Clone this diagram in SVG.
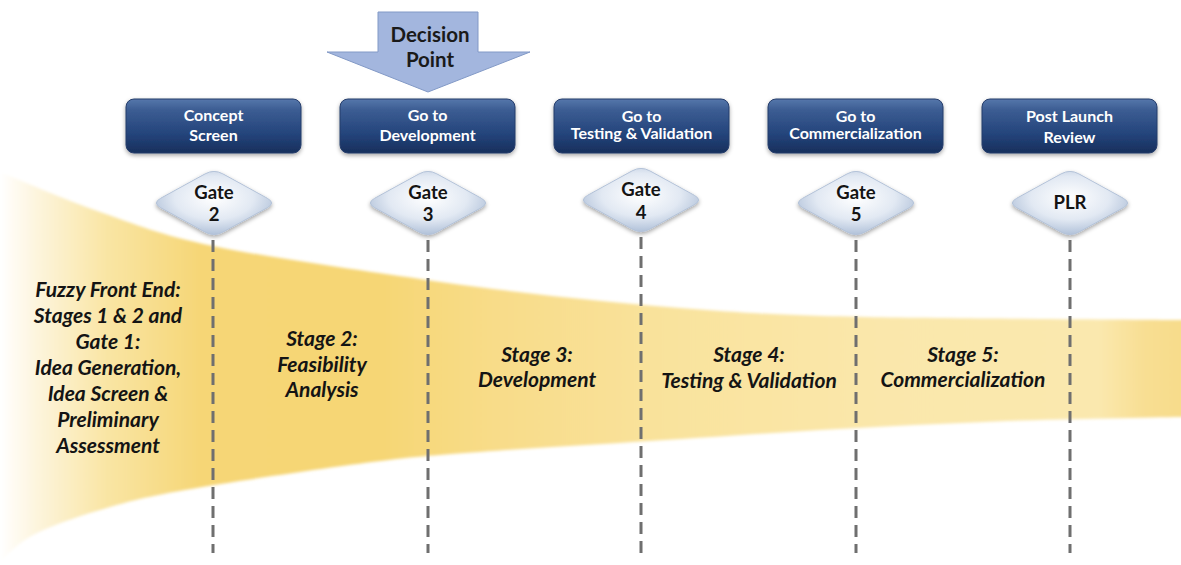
<svg xmlns="http://www.w3.org/2000/svg" xmlns:xlink="http://www.w3.org/1999/xlink" width="1181" height="565" viewBox="0 0 1181 565">
  <style>
    .box { fill: url(#boxFill); stroke: #253d6b; stroke-width: 1; filter: url(#shadow); }
    .boxText { font-family: Lato, "Liberation Sans", sans-serif; font-weight: bold; font-size: 16px; fill: #ffffff; text-anchor: middle; }
    .gate { fill: url(#gateFill); stroke: #b3c2d8; stroke-width: 1; filter: url(#shadow); }
    .gateText { font-family: Lato, "Liberation Sans", sans-serif; font-weight: bold; font-size: 18.5px; fill: #141414; text-anchor: middle; }
    .stage { font-family: Lato, "Liberation Sans", sans-serif; font-weight: bold; font-style: italic; font-size: 21px; fill: #141414; text-anchor: middle; }
    .divider { stroke: #6f6f6f; stroke-width: 3; stroke-dasharray: 12 7; fill: none; }
    .decisionText { font-family: Lato, "Liberation Sans", sans-serif; font-weight: bold; font-size: 20.5px; fill: #1a1a1a; text-anchor: middle; }
  </style>
  <defs>
    <linearGradient id="funnelFill" gradientUnits="userSpaceOnUse" x1="0" y1="0" x2="1181" y2="0">
      <stop offset="0" stop-color="#ffffff"/>
      <stop offset="0.03" stop-color="#fdf5de"/>
      <stop offset="0.09" stop-color="#f9e5a4"/>
      <stop offset="0.17" stop-color="#f6d676"/>
      <stop offset="0.32" stop-color="#f6d674"/>
      <stop offset="0.42" stop-color="#f8dc89"/>
      <stop offset="0.58" stop-color="#f9e39e"/>
      <stop offset="0.75" stop-color="#fae7ab"/>
      <stop offset="0.93" stop-color="#fae8ae"/>
      <stop offset="0.97" stop-color="#f8de92"/>
      <stop offset="1" stop-color="#f7dc8b"/>
    </linearGradient>
    <linearGradient id="boxFill" x1="0" y1="0" x2="0" y2="1">
      <stop offset="0" stop-color="#5677ab"/>
      <stop offset="0.2" stop-color="#3c5d93"/>
      <stop offset="0.65" stop-color="#24447b"/>
      <stop offset="1" stop-color="#172f5c"/>
    </linearGradient>
    <radialGradient id="gateFill" cx="0.5" cy="0.42" r="0.62">
      <stop offset="0" stop-color="#ffffff"/>
      <stop offset="0.55" stop-color="#e2e9f3"/>
      <stop offset="1" stop-color="#a9bbd5"/>
    </radialGradient>
    <filter id="shadow" x="-20%" y="-20%" width="140%" height="150%">
      <feDropShadow dx="0" dy="2" stdDeviation="2" flood-color="#000000" flood-opacity="0.35"/>
    </filter>
    <filter id="soft" x="-2%" y="-5%" width="104%" height="110%">
      <feGaussianBlur stdDeviation="1.5"/>
    </filter>
    <path id="diamond" d="M -8.77,-29.19 Q 0,-34 8.77,-29.19 L 53.23,-4.81 Q 62,0 53.23,4.81 L 8.77,29.19 Q 0,34 -8.77,29.19 L -53.23,4.81 Q -62,0 -53.23,-4.81 Z"/>
  </defs>

  <rect width="1181" height="565" fill="#ffffff"/>

  <!-- narrowing stage band -->
  <path id="funnel" filter="url(#soft)" fill="url(#funnelFill)" d="M -4,170 L 0,172 C 16.7,178.7 64.5,199.7 100,212 C 135.5,224.3 159.7,234.8 213,246 C 266.3,257.2 360.2,270.3 420,279 C 479.8,287.7 522,292.7 572,298 C 622,303.3 670.8,307.8 720,311 C 769.2,314.2 790.2,315.5 867,317 C 943.8,318.5 1128.7,319.5 1185,320 L 1185,417 L 1181,417 C 1152,417.5 1067.2,419 1007,421 C 946.8,423.5 882.3,426.3 820,430 C 757.7,433.7 689.7,438.3 633,442 C 576.3,445.7 523.5,448.7 480,452 C 436.5,455.3 421.2,455.7 372,462 C 322.8,468.3 230.3,482 185,490 C 139.7,498 125.3,502.5 100,510 C 74.7,517.5 49.7,526.3 33,535 C 16.3,543.7 5.5,557.5 0,562 L -4,562 Z"/>

  <!-- gate dividers -->
  <g id="connectors">
    <line class="divider" x1="213" y1="240" x2="213" y2="553"/>
    <line class="divider" x1="428" y1="240" x2="428" y2="553"/>
    <line class="divider" x1="641" y1="237" x2="641" y2="553"/>
    <line class="divider" x1="856" y1="240" x2="856" y2="553"/>
    <line class="divider" x1="1070" y1="240" x2="1070" y2="553"/>
  </g>

  <!-- decision point arrow -->
  <g id="decision-point">
    <polygon points="378,12 478,12 478,52 530,52 428,92 327,52 378,52" fill="#a3b6de" stroke="#8299c6" stroke-width="1"/>
    <text class="decisionText" x="430" y="42">Decision</text>
    <text class="decisionText" x="430" y="67">Point</text>
  </g>

  <!-- gate description boxes -->
  <g id="box-concept-screen">
    <rect class="box" x="126" y="99" width="175" height="54" rx="8"/>
    <text class="boxText" x="213.5" y="121">Concept</text>
    <text class="boxText" x="213.5" y="141">Screen</text>
  </g>
  <g id="box-go-development">
    <rect class="box" x="340" y="99" width="175" height="54" rx="8"/>
    <text class="boxText" x="427.5" y="121">Go to</text>
    <text class="boxText" x="427.5" y="141">Development</text>
  </g>
  <g id="box-go-testing">
    <rect class="box" x="554" y="99" width="175" height="54" rx="8"/>
    <text class="boxText" x="641.5" y="122">Go to</text>
    <text class="boxText" x="641.5" y="139">Testing &amp; Validation</text>
  </g>
  <g id="box-go-commercialization">
    <rect class="box" x="768" y="99" width="175" height="54" rx="8"/>
    <text class="boxText" x="855.5" y="122">Go to</text>
    <text class="boxText" x="855.5" y="139">Commercialization</text>
  </g>
  <g id="box-post-launch">
    <rect class="box" x="982" y="99" width="175" height="54" rx="8"/>
    <text class="boxText" x="1069.5" y="122">Post Launch</text>
    <text class="boxText" x="1069.5" y="143">Review</text>
  </g>

  <!-- gates -->
  <g id="gate-2">
    <use href="#diamond" class="gate" transform="translate(214,203)"/>
    <text class="gateText" x="214" y="199">Gate</text>
    <text class="gateText" x="214" y="221">2</text>
  </g>
  <g id="gate-3">
    <use href="#diamond" class="gate" transform="translate(428,203)"/>
    <text class="gateText" x="428" y="199">Gate</text>
    <text class="gateText" x="428" y="221">3</text>
  </g>
  <g id="gate-4">
    <use href="#diamond" class="gate" transform="translate(641,200)"/>
    <text class="gateText" x="641" y="196">Gate</text>
    <text class="gateText" x="641" y="219">4</text>
  </g>
  <g id="gate-5">
    <use href="#diamond" class="gate" transform="translate(856,203)"/>
    <text class="gateText" x="856" y="199">Gate</text>
    <text class="gateText" x="856" y="221">5</text>
  </g>
  <g id="gate-plr">
    <use href="#diamond" class="gate" transform="translate(1070,203)"/>
    <text class="gateText" x="1070" y="209">PLR</text>
  </g>

  <!-- stage labels -->
  <g id="stage-fuzzy-front-end">
    <text class="stage" x="108" y="297">Fuzzy Front End:</text>
    <text class="stage" x="108" y="323">Stages 1 &amp; 2 and</text>
    <text class="stage" x="108" y="349">Gate 1:</text>
    <text class="stage" x="108" y="375">Idea Generation,</text>
    <text class="stage" x="108" y="401">Idea Screen &amp;</text>
    <text class="stage" x="108" y="427">Preliminary</text>
    <text class="stage" x="108" y="453">Assessment</text>
  </g>
  <g id="stage-2">
    <text class="stage" x="322" y="346">Stage 2:</text>
    <text class="stage" x="322" y="372">Feasibility</text>
    <text class="stage" x="322" y="397">Analysis</text>
  </g>
  <g id="stage-3">
    <text class="stage" x="537" y="362">Stage 3:</text>
    <text class="stage" x="537" y="387">Development</text>
  </g>
  <g id="stage-4">
    <text class="stage" x="749" y="362">Stage 4:</text>
    <text class="stage" x="749" y="388">Testing &amp; Validation</text>
  </g>
  <g id="stage-5">
    <text class="stage" x="963" y="362">Stage 5:</text>
    <text class="stage" x="963" y="387">Commercialization</text>
  </g>
</svg>
